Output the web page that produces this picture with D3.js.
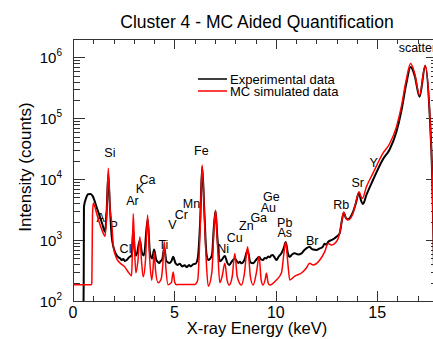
<!DOCTYPE html>
<html>
<head>
<meta charset="utf-8">
<script src="https://cdn.jsdelivr.net/npm/d3@7"></script>
<style>
  body { margin: 0; background: #fff; }
  svg { display: block; font-family: "Liberation Sans", Arial, sans-serif; }
</style>
</head>
<body>
<svg id="chart" width="433" height="339"></svg>
<script>
// Experimental spectrum [energy keV, counts]
const experimental = [
  [0.50, 30], [0.53, 300], [0.54, 3500], [0.64, 4830], [0.75, 5650], [0.87, 5680], [0.97, 5265],
  [1.08, 4250], [1.20, 3186], [1.33, 2411], [1.46, 1763], [1.58, 1368], [1.66, 3000], [1.74, 12000],
  [1.82, 3500], [1.86, 2000], [1.91, 1133], [1.99, 777], [2.07, 643], [2.18, 546], [2.25, 520],
  [2.32, 501], [2.40, 470], [2.48, 490], [2.56, 455], [2.65, 470], [2.76, 520], [2.89, 560],
  [2.97, 1500], [3.05, 650], [3.12, 560], [3.30, 1000], [3.40, 620], [3.50, 560], [3.68, 2200],
  [3.80, 600], [3.90, 500], [4.00, 700], [4.10, 480], [4.18, 440], [4.25, 420], [4.32, 450],
  [4.40, 480], [4.50, 750], [4.60, 460], [4.68, 430], [4.75, 420], [4.85, 450], [4.94, 530],
  [5.05, 420], [5.15, 390], [5.27, 410], [5.38, 370], [5.50, 385], [5.62, 360], [5.72, 390],
  [5.80, 370], [5.92, 400], [6.05, 410], [6.15, 500], [6.27, 2000], [6.37, 16000], [6.48, 2800],
  [6.58, 600], [6.67, 470], [6.85, 560], [6.95, 1700], [7.03, 3000], [7.12, 1100], [7.24, 450],
  [7.35, 480], [7.49, 550], [7.60, 430], [7.70, 390], [7.82, 440], [7.98, 500], [8.15, 420],
  [8.23, 440], [8.31, 415], [8.45, 470], [8.61, 680], [8.75, 430], [8.88, 415], [9.00, 460],
  [9.18, 530], [9.28, 480], [9.37, 470], [9.45, 510], [9.54, 500], [9.62, 540], [9.70, 520],
  [9.78, 560], [9.85, 570], [9.94, 520], [10.03, 470], [10.15, 540], [10.28, 605], [10.40, 750],
  [10.49, 930], [10.60, 600], [10.69, 532], [10.80, 580], [10.94, 605], [11.10, 580], [11.27, 605],
  [11.40, 680], [11.51, 731], [11.67, 777], [11.76, 720], [11.84, 700], [12.00, 690], [12.17, 730],
  [12.30, 760], [12.41, 870], [12.50, 840], [12.58, 930], [12.74, 1000], [12.87, 1050],
  [12.99, 1130], [13.15, 1290], [13.25, 2000], [13.35, 2800], [13.46, 2300], [13.56, 2200],
  [13.81, 2900], [13.95, 4000], [14.10, 6000], [14.20, 4500], [14.30, 3900], [14.47, 5500],
  [14.79, 9600], [15.28, 21000], [15.62, 31000], [15.95, 60000], [16.19, 130000], [16.43, 360000],
  [16.65, 690000], [16.85, 500000], [17.09, 225000], [17.37, 720000], [17.59, 115000],
  [17.72, 10000], [17.85, 50]
];

// Monte Carlo simulated spectrum [energy keV, counts]
const simulated = [
  [0.00, 185], [0.90, 185], [0.93, 200], [0.96, 2500], [1.00, 4050], [1.08, 3500], [1.17, 2700],
  [1.33, 1800], [1.49, 1300], [1.58, 1150], [1.66, 2500], [1.74, 15100], [1.82, 3500], [1.91, 1900],
  [1.99, 780], [2.15, 500], [2.32, 420], [2.56, 360], [2.72, 300], [2.89, 260], [2.92, 500],
  [2.97, 2700], [3.03, 800], [3.10, 290], [3.20, 450], [3.30, 1130], [3.38, 450], [3.46, 250],
  [3.58, 500], [3.68, 2570], [3.78, 500], [3.88, 220], [3.95, 350], [4.00, 640], [4.07, 320],
  [4.20, 200], [4.35, 230], [4.43, 400], [4.50, 940], [4.58, 350], [4.69, 185], [4.85, 200],
  [4.94, 300], [5.02, 200], [5.11, 185], [5.27, 187], [6.00, 187], [6.15, 220], [6.27, 1500],
  [6.37, 17000], [6.48, 2500], [6.58, 400], [6.67, 175], [6.85, 300], [6.95, 1500], [7.03, 3100],
  [7.12, 900], [7.24, 200], [7.35, 250], [7.49, 415], [7.60, 220], [7.70, 183], [7.85, 250],
  [7.98, 600], [8.10, 250], [8.31, 183], [8.45, 280], [8.61, 775], [8.75, 250], [8.88, 183],
  [9.05, 300], [9.18, 535], [9.28, 220], [9.37, 183], [9.47, 220], [9.54, 285], [9.62, 200],
  [9.70, 183], [10.03, 221], [10.28, 290], [10.40, 600], [10.49, 940], [10.60, 400], [10.69, 221],
  [10.94, 257], [11.27, 288], [11.51, 348], [11.67, 415], [11.84, 390], [12.17, 470], [12.41, 640],
  [12.58, 880], [12.74, 830], [12.99, 940], [13.15, 1290], [13.25, 2000], [13.35, 2900],
  [13.46, 2300], [13.56, 2130], [13.81, 2750], [13.95, 4200], [14.11, 6200], [14.20, 5200],
  [14.27, 4830], [14.47, 7480], [14.79, 12400], [15.28, 26400], [15.62, 38500], [15.95, 72000],
  [16.19, 153000], [16.43, 420000], [16.65, 789000], [16.85, 541000], [17.09, 238000],
  [17.37, 740000], [17.59, 120000], [17.72, 10000], [17.85, 50]
];

// Element annotations, placed in data space
const labelNames  = ['Si', 'Al', 'P', 'Cl', 'Ar', 'K', 'Ca', 'Ti', 'V', 'Cr', 'Mn', 'Fe', 'Ni', 'Cu',
                     'Zn', 'Ga', 'Au', 'Ge', 'Pb', 'As', 'Br', 'Rb', 'Sr', 'Y'];
const labelEnergy = [1.82, 1.43, 2.00, 2.59, 2.93, 3.30, 3.67, 4.46, 4.90, 5.34, 5.84, 6.33, 7.41, 7.98,
                     8.55, 9.16, 9.63, 9.78, 10.44, 10.44, 11.80, 13.23, 14.04, 14.83];
const labelCounts = [23000, 1970, 1460, 612, 3750, 5890, 8280, 711, 1514, 2208, 3350, 24700, 612, 927,
                     1460, 1970, 2880, 4360, 1634, 1120, 828, 3220, 7400, 15700];

const xTicks = [0, 5, 10, 15];
const yTicks = [1e2, 1e3, 1e4, 1e5, 1e6];
const seriesNames = ['Experimental data', 'MC simulated data'];
const seriesColors = ['#000000', '#ff0000'];

const margin = { top: 39, right: -5, bottom: 38, left: 73 };
const W = 433, H = 339;
const width = W - margin.left - margin.right;
const height = H - margin.top - margin.bottom;

const svg = d3.select('#chart');

const x = d3.scaleLinear().domain([0, 18]).range([margin.left, margin.left + width]);
const y = d3.scaleLog().domain([1e2, Math.pow(10, 6.3)]).range([margin.top + height, margin.top]);

// title
svg.append('text')
  .attr('x', 257).attr('y', 28)
  .attr('text-anchor', 'middle')
  .style('font-size', '17.5px')
  .text('Cluster 4 - MC Aided Quantification');

svg.append('defs').append('clipPath').attr('id', 'clip')
  .append('rect')
  .attr('x', margin.left).attr('y', margin.top)
  .attr('width', width).attr('height', height);

// minor ticks
const minorX = d3.range(0, 19, 1);
const minorY = [];
for (let d = 2; d <= 6; d++) for (let k = 1; k <= 9; k++) {
  const v = k * Math.pow(10, d);
  if (v <= y.domain()[1]) minorY.push(v);
}

const axisColor = '#333';
const frame = svg.append('g').attr('stroke', axisColor).attr('stroke-width', 1).attr('fill', 'none');

// x ticks, bottom + top
minorX.forEach(v => {
  const len = v % 5 === 0 ? 10 : 5;
  const px = Math.round(x(v)) + 0.5;
  frame.append('line').attr('x1', px).attr('x2', px)
    .attr('y1', margin.top + height).attr('y2', margin.top + height - len);
  frame.append('line').attr('x1', px).attr('x2', px)
    .attr('y1', margin.top).attr('y2', margin.top + len);
});

// y ticks, left + right
minorY.forEach(v => {
  const major = Math.abs(Math.log10(v) - Math.round(Math.log10(v))) < 1e-9;
  const len = major ? 12 : 7;
  const py = Math.round(y(v)) + 0.5;
  frame.append('line').attr('x1', margin.left).attr('x2', margin.left + len)
    .attr('y1', py).attr('y2', py);
  frame.append('line').attr('x1', margin.left + width).attr('x2', margin.left + width - len)
    .attr('y1', py).attr('y2', py);
});

frame.append('rect')
  .attr('x', margin.left + 0.5).attr('y', margin.top + 0.5)
  .attr('width', width).attr('height', height);

// tick labels
svg.append('g').selectAll('text').data(xTicks).join('text')
  .attr('x', d => x(d)).attr('y', margin.top + height + 17)
  .attr('text-anchor', 'middle')
  .style('font-size', '16px')
  .text(d => d);

const yl = svg.append('g').selectAll('text').data(yTicks).join('text')
  .attr('x', 62).attr('y', d => y(d) + 6)
  .attr('text-anchor', 'end')
  .style('font-size', '15px');
yl.append('tspan').text('10');
yl.append('tspan').attr('dy', -7).style('font-size', '10px').text(d => Math.round(Math.log10(d)));

// axis titles
svg.append('text')
  .attr('x', 257).attr('y', 334)
  .attr('text-anchor', 'middle')
  .style('font-size', '16.5px')
  .text('X-ray Energy (keV)');

svg.append('text')
  .attr('transform', 'translate(31,167) rotate(-90)')
  .attr('text-anchor', 'middle')
  .style('font-size', '17px')
  .text('Intensity (counts)');

// element labels (under the curves, as in the original)
svg.append('g').selectAll('text').data(labelNames).join('text')
  .attr('x', (d, i) => x(labelEnergy[i]))
  .attr('y', (d, i) => y(labelCounts[i]))
  .attr('text-anchor', 'middle')
  .style('font-size', '12.5px')
  .text(d => d);

svg.append('text')
  .attr('x', x(16.06)).attr('y', 52)
  .style('font-size', '12.5px')
  .text('scatter');

// spectra
const line = d3.line()
  .x(d => x(d[0]))
  .y(d => y(d[1]))
  .curve(d3.curveMonotoneX);

const plot = svg.append('g').attr('clip-path', 'url(#clip)');
plot.append('path').datum(experimental)
  .attr('fill', 'none').attr('stroke', seriesColors[0]).attr('stroke-width', 2)
  .attr('d', line);
plot.append('path').datum(simulated)
  .attr('fill', 'none').attr('stroke', seriesColors[1]).attr('stroke-width', 1.5)
  .attr('d', line);

// legend
const legend = svg.append('g').selectAll('g').data(seriesNames).join('g')
  .attr('transform', (d, i) => 'translate(198,' + (79 + i * 12) + ')');
legend.append('line')
  .attr('x1', 0).attr('x2', 29)
  .attr('stroke', (d, i) => seriesColors[i])
  .attr('stroke-width', 1.5);
legend.append('text')
  .attr('x', 32).attr('y', 4.5)
  .style('font-size', '13px')
  .text(d => d);
</script>
</body>
</html>
